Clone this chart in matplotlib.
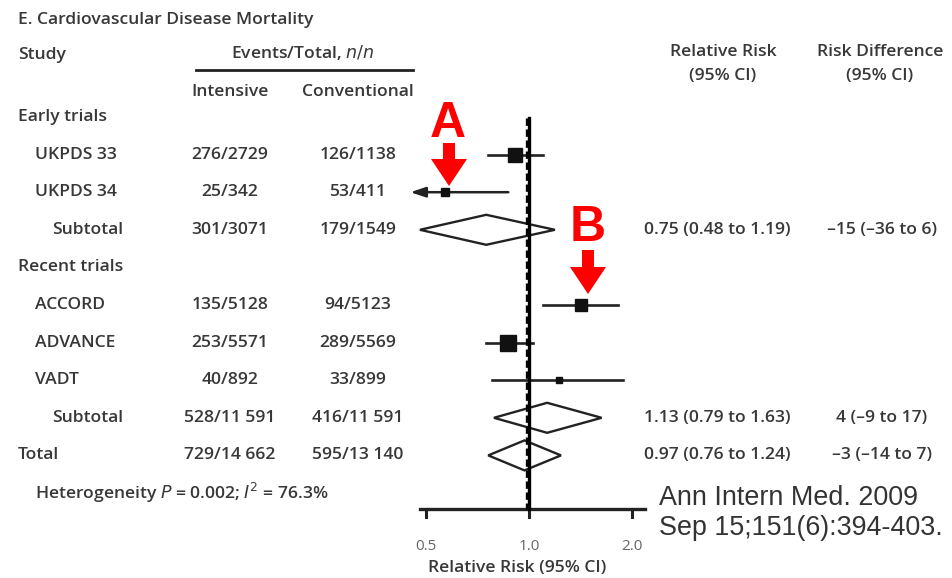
import numpy as np
import matplotlib
matplotlib.use("Agg")
from matplotlib import pyplot as plt
from matplotlib.patches import Polygon, FancyArrow

# table rows (label, indent level)
row_labels = ["Early trials", "UKPDS 33", "UKPDS 34", "Subtotal", "Recent trials",
              "ACCORD", "ADVANCE", "VADT", "Subtotal", "Total"]
row_indent = [0, 1, 1, 2, 0, 1, 1, 1, 2, 0]

# events/total for rows that have data
data_rows = [1, 2, 3, 5, 6, 7, 8, 9]
intensive = ["276/2729", "25/342", "301/3071", "135/5128", "253/5571", "40/892",
             "528/11 591", "729/14 662"]
conventional = ["126/1138", "53/411", "179/1549", "94/5123", "289/5569", "33/899",
                "416/11 591", "595/13 140"]

# individual trials: relative risk and 95% CI
trial_rows = [1, 2, 5, 6, 7]
trial_rr = [0.91, 0.57, 1.42, 0.87, 1.22]
trial_lo = [0.76, 0.45, 1.10, 0.75, 0.78]
trial_hi = [1.10, 0.87, 1.82, 1.03, 1.88]

# pooled estimates
pool_rows = [3, 8, 9]
pool_rr = [0.75, 1.13, 0.97]
pool_lo = [0.48, 0.79, 0.76]
pool_hi = [1.19, 1.63, 1.24]
pool_rr_text = ["0.75 (0.48 to 1.19)", "1.13 (0.79 to 1.63)", "0.97 (0.76 to 1.24)"]
pool_rd_text = ["\u201315 (\u201336 to 6)", "4 (\u20139 to 17)", "\u20133 (\u201314 to 7)"]

xticks = [0.5, 1.0, 2.0]
xtick_labels = ["0.5", "1.0", "2.0"]

W, H = 953, 578
txt = "#383838"
font = "Open Sans"
fs = 12.6


def row_y(i):
    return 117 + 37.6 * i


fig = plt.figure(figsize=(W / 100, H / 100), dpi=100)
ax = fig.add_axes([0, 0, 1, 1])
ax.set_xlim(0, W)
ax.set_ylim(H, 0)
ax.axis("off")

kw = dict(color=txt, family=font, fontweight="semibold", fontsize=fs, va="center")

ax.text(18, 20, "E. Cardiovascular Disease Mortality", **kw)
ax.text(18, 55, "Study", **kw)
ax.text(303, 53, "Events/Total, $\\it{n/n}$", ha="center", **kw)
ax.plot([196, 413], [70, 70], color="#222222", lw=2)
ax.text(230, 92, "Intensive", ha="center", **kw)
ax.text(358, 92, "Conventional", ha="center", **kw)
ax.text(723, 52, "Relative Risk", ha="center", **kw)
ax.text(723, 76, "(95% CI)", ha="center", **kw)
ax.text(880, 52, "Risk Difference", ha="center", **kw)
ax.text(880, 76, "(95% CI)", ha="center", **kw)

for i, (lab, ind) in enumerate(zip(row_labels, row_indent)):
    ax.text(18 + 17 * ind, row_y(i), lab, **kw)

for r, a, b in zip(data_rows, intensive, conventional):
    ax.text(230, row_y(r), a, ha="center", **kw)
    ax.text(358, row_y(r), b, ha="center", **kw)

for r, a, b in zip(pool_rows, pool_rr_text, pool_rd_text):
    ax.text(644, row_y(r), a, ha="left", **kw)
    ax.text(882, row_y(r), b, ha="center", **kw)

ax.text(35, row_y(10), "Heterogeneity $\\it{P}$ = 0.002; $\\it{I}^2$ = 76.3%", **kw)

# citation
ax.text(659, 498, "Ann Intern Med. 2009", color="#333333", family="Liberation Sans",
        fontsize=19.4, va="center")
ax.text(659, 528, "Sep 15;151(6):394-403.", color="#333333", family="Liberation Sans",
        fontsize=19.4, va="center")

# red annotations
ax.text(448, 124, "A", color="#ff0000", family="Liberation Sans", fontweight="bold",
        fontsize=36, ha="center", va="center")
ax.add_patch(FancyArrow(449, 143, 0, 43, width=12, head_width=36, head_length=27,
                        length_includes_head=True, color="#ff0000", lw=0))
ax.text(588, 228, "B", color="#ff0000", family="Liberation Sans", fontweight="bold",
        fontsize=36, ha="center", va="center")
ax.add_patch(FancyArrow(588, 250, 0, 44, width=12, head_width=36, head_length=27,
                        length_includes_head=True, color="#ff0000", lw=0))

ax.text(517, 568, "Relative Risk (95% CI)", ha="center", va="center", **{k: v for k, v in kw.items() if k != "va"})

# forest plot axes, log scale
x0, x1 = 400, 650
fax = fig.add_axes([x0 / W, 0, (x1 - x0) / W, 1])
fax.set_xscale("log", base=2)
fax.set_xlim(2 ** ((x0 - 529) / 103), 2 ** ((x1 - 529) / 103))
fax.set_ylim(H, 0)
fax.patch.set_alpha(0)
fax.axis("off")

axis_y = 509
# null line: thick black with short white gaps on its left edge
fax.plot([1.0, 1.0], [118, axis_y], color="black", lw=2.4, zorder=3)
fax.plot([0.988, 0.988], [118, axis_y], color="black", lw=2.4, ls=(0, (2.2, 1.1)), zorder=3)

# x axis
fax.plot([2 ** ((420 - 529) / 103), 2 ** ((645 - 529) / 103)], [axis_y, axis_y],
         color="#222222", lw=2.4, clip_on=False)
for t, tl in zip(xticks, xtick_labels):
    fax.plot([t, t], [axis_y, axis_y + 8], color="#222222", lw=2.2)
    fax.text(t, 546, tl, ha="center", va="center", color="#666666", family=font,
             fontsize=11)

marker_size = [10, 6, 9, 11, 5]
for r, m, lo, hi, ms in zip(trial_rows, trial_rr, trial_lo, trial_hi, marker_size):
    y = row_y(r)
    if lo < 0.5:
        fax.annotate("", xy=(lo, y), xytext=(hi, y),
                     arrowprops=dict(arrowstyle="-|>,head_length=0.9,head_width=0.3",
                                     color="#222222", lw=1.8, shrinkA=0, shrinkB=0))
    else:
        fax.plot([lo, hi], [y, y], color="#222222", lw=1.9)
    fax.plot([m], [y], marker="s", ms=ms, color="#111111", zorder=4)

for r, m, lo, hi in zip(pool_rows, pool_rr, pool_lo, pool_hi):
    y = row_y(r)
    fax.add_patch(Polygon([[lo, y], [m, y - 15], [hi, y], [m, y + 15]], closed=True,
                          fill=False, edgecolor="#222222", lw=1.7, zorder=2))

fig.savefig("out.png", dpi=100)
